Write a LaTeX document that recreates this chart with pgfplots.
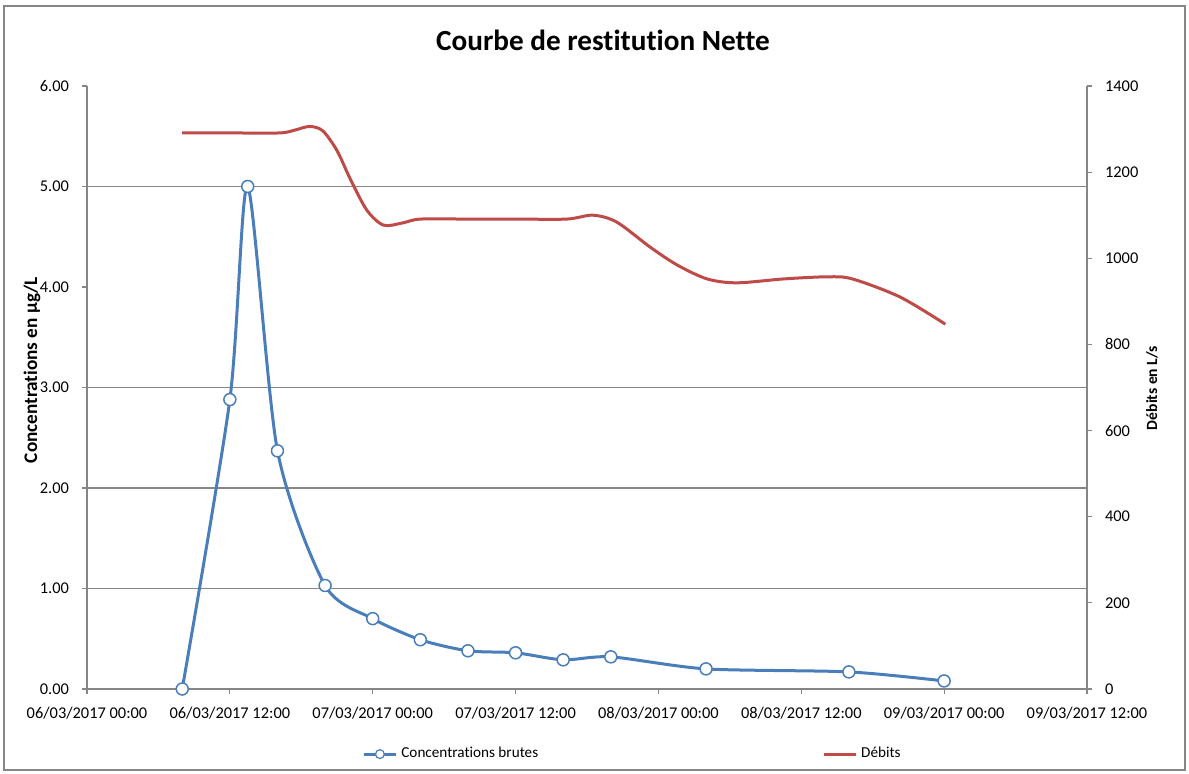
\documentclass[border=0pt]{standalone}
\usepackage{pgfplots}
\pgfplotsset{compat=1.18}
\usepackage{fontspec}
\setmainfont{Carlito}[Ligatures={NoCommon}]
\definecolor{cblue}{HTML}{4A7EBB}
\definecolor{cred}{HTML}{BE4B48}
\definecolor{axgray}{HTML}{868686}
\begin{document}
\begin{tikzpicture}
\useasboundingbox (-43.5pt,-42.5pt) rectangle (551pt,344.5pt);
\draw[axgray, line width=1pt] (-41.5pt,-40.5pt) rectangle (549pt,341.5pt);
\node[font=\bfseries\fontsize{14.6}{17}\selectfont] at (258pt,324.5pt) {Courbe de restitution Nette};
\begin{axis}[
  at={(0,0)}, anchor=south west,
  scale only axis, width=500pt, height=301.5pt,
  xmin=0, xmax=84, ymin=0, ymax=6,
  axis x line*=bottom, axis y line*=left,
  axis line style={axgray, line width=0.6pt},
  tick style={axgray, line width=0.6pt},
  tick align=outside, major tick length=2.5pt,
  xtick={0,12,...,84},
  xticklabels={06/03/2017 00:00,06/03/2017 12:00,07/03/2017 00:00,07/03/2017 12:00,08/03/2017 00:00,08/03/2017 12:00,09/03/2017 00:00,09/03/2017 12:00},
  xticklabel style={font=\fontsize{8.2}{10}\selectfont, yshift=-3pt},
  ytick={0,1,...,6},
  /pgf/number format/assume math mode=true,
  yticklabel style={/pgf/number format/.cd, fixed, fixed zerofill, precision=2, /tikz/.cd, font=\fontsize{8.2}{10}\selectfont, xshift=-3pt},
  extra y ticks={1,2,3,5},
  extra y tick labels={},
  extra y tick style={ymajorgrids=true, major tick length=0pt},
  major grid style={axgray, line width=0.6pt},
  ylabel={Concentrations en µg/L},
  ylabel style={font=\bfseries\fontsize{9.6}{11}\selectfont, at={(rel axis cs:-0.055,0.529)}, anchor=center},
]
\addplot[cblue, line width=1.5pt, smooth, tension=0.45, mark=*, mark size=3pt,
  mark options={fill=white, draw=cblue, line width=0.75pt}] coordinates {
(8,0) (12,2.88) (13.5,5.00) (16,2.37) (20,1.03) (24,0.70) (28,0.49) (32,0.38)
(36,0.36) (40,0.29) (44,0.32) (52,0.20) (64,0.17) (72,0.08)
};
\end{axis}
\begin{axis}[
  at={(0,0)}, anchor=south west,
  scale only axis, width=500pt, height=301.5pt,
  xmin=0, xmax=84, ymin=0, ymax=1400,
  axis x line=none, axis y line*=right,
  axis line style={axgray, line width=0.6pt},
  tick style={axgray, line width=0.6pt},
  tick align=outside, major tick length=2.5pt,
  ytick={0,200,...,1400},
  /pgf/number format/assume math mode=true,
  /pgf/number format/1000 sep={},
  yticklabel style={font=\fontsize{8.2}{10}\selectfont, xshift=3pt},
  ylabel={Débits en L/s},
  ylabel style={font=\bfseries\fontsize{7.8}{9}\selectfont, at={(rel axis cs:1.065,0.499)}, anchor=center},
  legend columns=2,
  legend style={draw=none, fill=none, at={(rel axis cs:0.275,-0.108)}, anchor=west,
    font=\fontsize{7.6}{9}\selectfont, /tikz/every even column/.append style={column sep=140pt},
    inner sep=0pt},
  legend image code/.code={\draw[mark repeat=2,mark phase=2,#1] plot coordinates {(0pt,0pt)(8pt,0pt)(16pt,0pt)};},
]
\addlegendimage{cblue, line width=1.5pt, mark=*, mark size=2.2pt, mark options={fill=white, draw=cblue, line width=0.6pt}}
\addlegendentry{Concentrations brutes}
\addplot[cred, line width=1.5pt, smooth, tension=0.5] coordinates {
(8,1291) (12,1291) (16.2,1291) (17.5,1298) (18.7,1306) (19.8,1296) (21,1250) (22.1,1185)
(23.5,1112) (24.9,1077) (26.5,1082) (28,1091) (32,1091) (36,1091) (40.3,1091)
(42.5,1100) (44.5,1084) (47.3,1026) (49.6,984) (52.1,952) (54.6,943) (58.5,952)
(62.2,957) (64.3,952) (68.3,910) (72.1,847)
};
\addlegendentry{Débits}
\end{axis}
\end{tikzpicture}
\end{document}
